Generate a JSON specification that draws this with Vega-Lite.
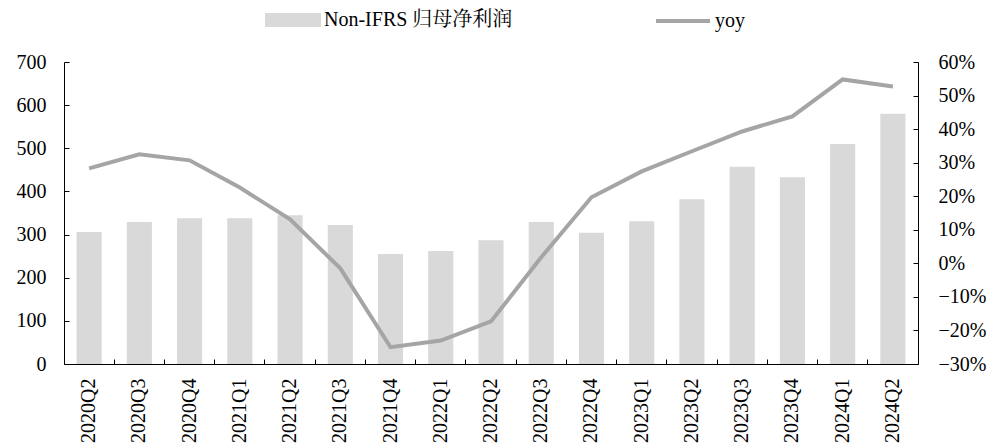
{
  "$schema": "https://vega.github.io/schema/vega-lite/v6.json",
  "autosize": {"type": "none"},
  "width": 854,
  "height": 302,
  "padding": {"left": 64, "top": 62, "right": 77, "bottom": 84},
  "background": "white",
  "config": {
    "view": {"stroke": null},
    "font": "Liberation Serif, Times New Roman, serif",
    "axis": {
      "labelFont": "Liberation Serif, Times New Roman, serif",
      "labelFontSize": 20,
      "labelColor": "black",
      "domainColor": "black",
      "tickColor": "black",
      "grid": false,
      "title": null
    },
    "legend": {
      "labelFont": "Liberation Serif, Times New Roman, Noto Serif CJK SC, Noto Sans CJK SC, serif",
      "labelFontSize": 20,
      "labelColor": "black",
      "labelLimit": 400
    }
  },
  "data": {
    "values": [
      {"q": "2020Q2", "value": 306, "yoy": 0.283},
      {"q": "2020Q3", "value": 329, "yoy": 0.325},
      {"q": "2020Q4", "value": 338, "yoy": 0.307},
      {"q": "2021Q1", "value": 338, "yoy": 0.226},
      {"q": "2021Q2", "value": 345, "yoy": 0.131},
      {"q": "2021Q3", "value": 322, "yoy": -0.015},
      {"q": "2021Q4", "value": 255, "yoy": -0.25},
      {"q": "2022Q1", "value": 262, "yoy": -0.23},
      {"q": "2022Q2", "value": 287, "yoy": -0.173},
      {"q": "2022Q3", "value": 329, "yoy": 0.018},
      {"q": "2022Q4", "value": 304, "yoy": 0.197},
      {"q": "2023Q1", "value": 331, "yoy": 0.274},
      {"q": "2023Q2", "value": 382, "yoy": 0.334},
      {"q": "2023Q3", "value": 457, "yoy": 0.393},
      {"q": "2023Q4", "value": 433, "yoy": 0.438},
      {"q": "2024Q1", "value": 510, "yoy": 0.548},
      {"q": "2024Q2", "value": 580, "yoy": 0.527}
    ]
  },
  "encoding": {
    "x": {
      "field": "q",
      "type": "nominal",
      "sort": null,
      "scale": {"paddingInner": 0, "paddingOuter": 0},
      "axis": {
        "labelAngle": -90,
        "labelAlign": "right",
        "labelBaseline": "middle",
        "bandPosition": 0,
        "tickSize": -5,
        "labelPadding": 19,
        "domainColor": "black"
      }
    }
  },
  "layer": [
    {
      "mark": {"type": "bar", "width": {"band": 0.5}},
      "encoding": {
        "y": {
          "field": "value",
          "type": "quantitative",
          "scale": {"domain": [0, 700], "nice": false},
          "axis": {"values": [0, 100, 200, 300, 400, 500, 600, 700], "tickSize": -5, "labelPadding": 23}
        },
        "fill": {
          "datum": "Non-IFRS 归母净利润",
          "scale": {"range": ["#d9d9d9"]},
          "legend": {
            "orient": "none",
            "legendX": 201,
            "legendY": -70,
            "title": null,
            "padding": 0,
            "symbolType": "M-1,-0.25H1V0.25H-1Z",
            "symbolSize": 3136,
            "symbolStrokeWidth": 0,
            "labelOffset": 3
          }
        }
      }
    },
    {
      "mark": {"type": "line", "strokeWidth": 4, "interpolate": "linear"},
      "encoding": {
        "y": {
          "field": "yoy",
          "type": "quantitative",
          "scale": {"domain": [-0.3, 0.6], "nice": false},
          "axis": {
            "orient": "right",
            "format": ".0%",
            "values": [-0.3, -0.2, -0.1, 0, 0.1, 0.2, 0.3, 0.4, 0.5, 0.6],
            "tickSize": -5,
            "labelPadding": 25
          }
        },
        "stroke": {
          "datum": "yoy",
          "scale": {"range": ["#a5a5a5"]},
          "legend": {
            "orient": "none",
            "legendX": 590,
            "legendY": -70,
            "title": null,
            "padding": 0,
            "symbolType": "stroke",
            "symbolSize": 2916,
            "symbolStrokeWidth": 4,
            "labelOffset": 3
          }
        }
      }
    }
  ],
  "resolve": {"scale": {"y": "independent"}}
}
